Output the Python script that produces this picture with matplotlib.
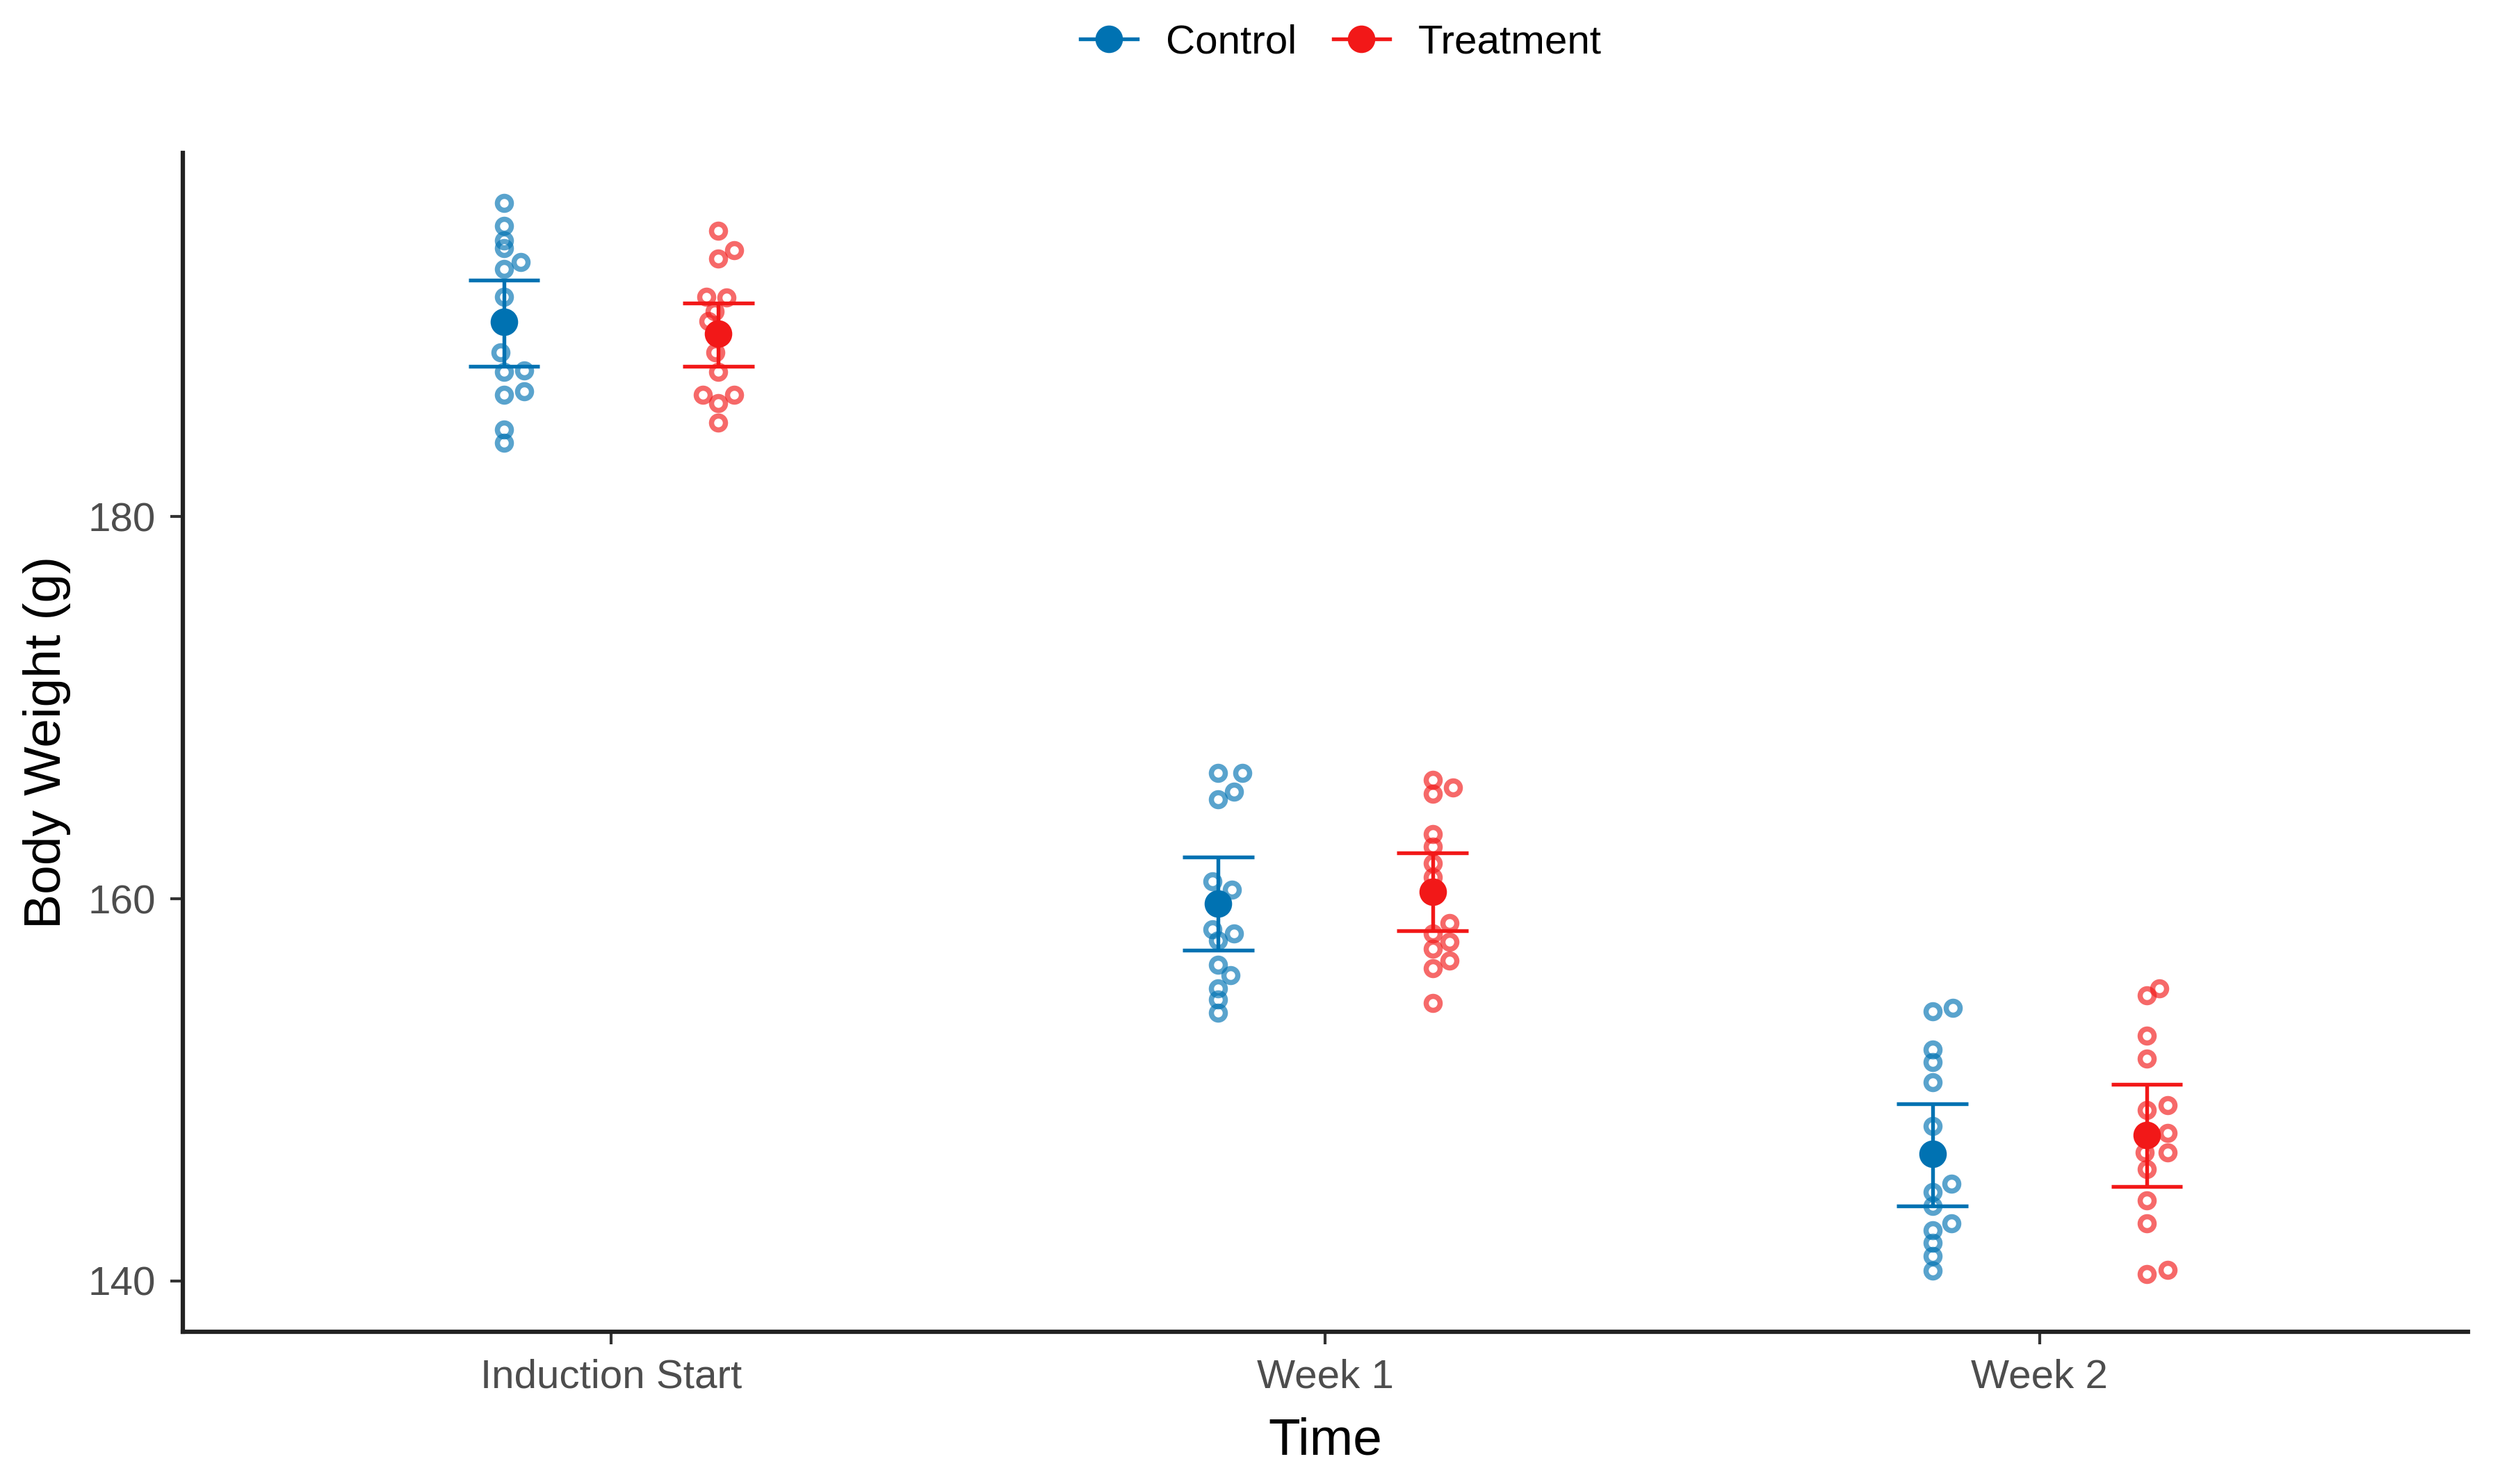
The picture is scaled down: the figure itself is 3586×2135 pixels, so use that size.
import matplotlib.pyplot as plt
from matplotlib.lines import Line2D
import numpy as np

plt.rcParams['font.family'] = ['Liberation Sans', 'DejaVu Sans']

# Kategori waktu
TIMES = ['Induction Start', 'Week 1', 'Week 2']
GROUPS = ['Control', 'Treatment']
COLORS = {'Control': '#0072B2', 'Treatment': '#F21818'}

# Berat badan individu (g)
ctrl_induction = [196.4, 195.2, 194.45, 194.06, 193.34, 192.97, 191.52, 188.61, 187.58, 187.64, 186.55, 186.37, 184.55, 183.88]
ctrl_week1 = [166.6, 166.6, 165.59, 165.21, 160.9, 160.48, 158.41, 158.17, 157.81, 156.54, 155.99, 155.32, 154.72, 154.05]
ctrl_week2 = [154.11, 154.29, 152.11, 151.44, 150.41, 148.11, 145.08, 144.65, 143.92, 143.02, 142.65, 141.99, 141.32, 140.53]

trt_induction = [194.97, 193.94, 193.52, 191.52, 191.46, 190.73, 190.24, 188.61, 187.58, 186.37, 186.37, 185.94, 184.91]
trt_week1 = [166.23, 165.81, 165.51, 163.39, 162.72, 161.87, 161.14, 158.72, 158.17, 157.75, 157.38, 156.78, 156.35, 154.54]
trt_week2 = [154.96, 155.32, 152.84, 151.63, 149.2, 148.96, 147.75, 146.71, 146.71, 145.86, 144.23, 143.02, 140.35, 140.59]

# Jitter horizontal tiap titik (satuan kategori)
ctrl_induction_jit = [0, 0, 0, 0, 0.023, 0, 0, -0.005, 0, 0.028, 0.028, 0, 0, 0]
ctrl_week1_jit = [0, 0.034, 0.022, 0, -0.008, 0.019, -0.008, 0.022, 0, 0, 0.017, 0, 0, 0]
ctrl_week2_jit = [0, 0.029, 0, 0, 0, 0, 0.027, 0, 0, 0.027, 0, 0, 0, 0]

trt_induction_jit = [0, 0.022, 0, -0.017, 0.011, -0.005, -0.014, -0.004, 0, -0.022, 0.022, 0, 0]
trt_week1_jit = [0, 0.029, 0, 0, 0, 0, 0, 0.024, 0, 0.024, 0, 0.024, 0, 0]
trt_week2_jit = [0, 0.018, 0, 0, 0.029, 0, 0.029, 0.029, -0.003, 0, 0, 0, 0, 0.029]

# Rata-rata dan batas error bar
ctrl_mean = [190.19, 159.75, 146.65]
ctrl_low = [187.88, 157.30, 143.92]
ctrl_high = [192.39, 162.18, 149.26]

trt_mean = [189.58, 160.36, 147.62]
trt_low = [187.88, 158.32, 144.95]
trt_high = [191.18, 162.42, 150.29]

points = {
    'Control': [(ctrl_induction, ctrl_induction_jit), (ctrl_week1, ctrl_week1_jit), (ctrl_week2, ctrl_week2_jit)],
    'Treatment': [(trt_induction, trt_induction_jit), (trt_week1, trt_week1_jit), (trt_week2, trt_week2_jit)],
}
summary = {
    'Control': (ctrl_mean, ctrl_low, ctrl_high),
    'Treatment': (trt_mean, trt_low, trt_high),
}
dodge = {'Control': -0.15, 'Treatment': 0.15}

fig = plt.figure(figsize=(3586 / 300, 2135 / 300), dpi=300)
ax = fig.add_axes([0.0733, 0.1026, 0.9167, 0.7944])

x_base = np.arange(1, len(TIMES) + 1)

for g in GROUPS:
    col = COLORS[g]
    # titik individu
    for i, (vals, jit) in enumerate(points[g]):
        xs = x_base[i] + dodge[g] + np.array(jit)
        ax.plot(xs, vals, linestyle='none', marker='o', markersize=4.8,
                markerfacecolor='none', markeredgecolor=col, markeredgewidth=1.8,
                alpha=0.65, zorder=2)
    # error bar + mean
    mean, low, high = summary[g]
    xs = x_base + dodge[g]
    ax.vlines(xs, low, high, color=col, linewidth=1.3, zorder=3)
    ax.hlines(low, xs - 0.05, xs + 0.05, color=col, linewidth=1.3, zorder=3)
    ax.hlines(high, xs - 0.05, xs + 0.05, color=col, linewidth=1.3, zorder=3)
    ax.plot(xs, mean, linestyle='none', marker='o', markersize=8.5,
            color=col, zorder=4)

ax.set_xlim(0.4, 3.6)
ax.set_ylim(137.34, 199.04)
ax.set_xticks(x_base)
ax.set_xticklabels(TIMES)
ax.set_yticks([140, 160, 180])

# gaya theme_classic
for side in ['top', 'right']:
    ax.spines[side].set_visible(False)
for side in ['left', 'bottom']:
    ax.spines[side].set_linewidth(1.5)
    ax.spines[side].set_color('#222222')
ax.tick_params(axis='both', length=4.3, width=1.0, color='#333333',
               labelsize=14, labelcolor='#4D4D4D', pad=5)

ax.set_xlabel('Time', fontsize=18)
ax.set_ylabel('Body Weight (g)', fontsize=18)
ax.xaxis.set_label_coords(0.5, -0.072)
ax.yaxis.set_label_coords(-0.049, 0.5)

handles = [Line2D([0], [0], color=COLORS[g], marker='o', markersize=8.5, linewidth=1.3)
           for g in GROUPS]
fig.legend(handles, GROUPS, loc='center', bbox_to_anchor=(0.538, 0.971), ncol=2,
           frameon=False, fontsize=14, handlelength=1.4, handletextpad=0.7,
           columnspacing=0.9)

fig.savefig('out.png', dpi=300, facecolor='white')
